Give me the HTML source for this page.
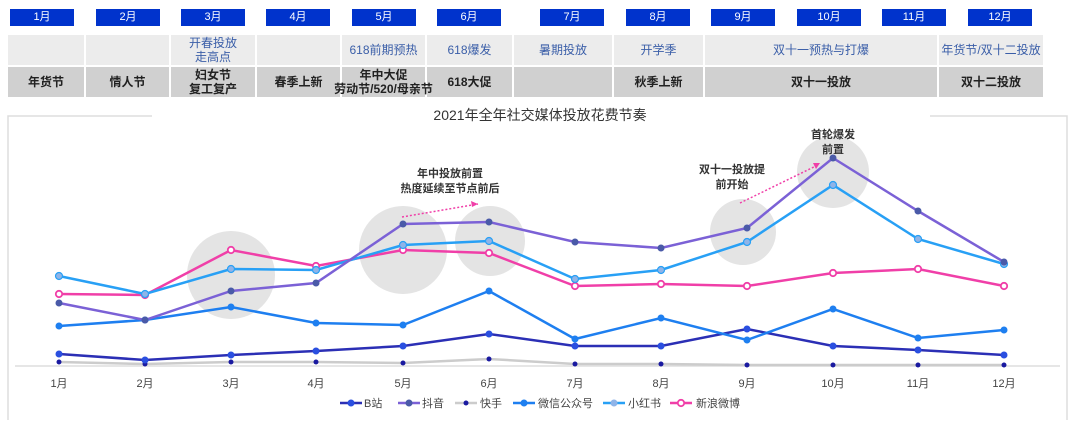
<!DOCTYPE html>
<html><head><meta charset="utf-8"><style>
body{margin:0;width:1080px;height:425px;background:#fff;font-family:"Liberation Sans","Noto Sans CJK SC",sans-serif;position:relative;overflow:hidden}
.m{position:absolute;top:9px;width:64px;height:17px;background:#0033cc;color:#fff;font-size:11px;text-align:center;line-height:17px}
.c{position:absolute;display:flex;align-items:center;justify-content:center;text-align:center;font-size:12px;line-height:14px;white-space:nowrap}
.r1{top:35px;height:30px;background:#ececec;color:#3a5ea8}
.r2{top:67px;height:30px;background:#d0d0d0;color:#222;font-weight:bold}
</style></head><body>
<div class="m" style="left:10px">1月</div><div class="m" style="left:96px">2月</div><div class="m" style="left:181px">3月</div><div class="m" style="left:266px">4月</div><div class="m" style="left:352px">5月</div><div class="m" style="left:437px">6月</div><div class="m" style="left:540px">7月</div><div class="m" style="left:626px">8月</div><div class="m" style="left:711px">9月</div><div class="m" style="left:797px">10月</div><div class="m" style="left:882px">11月</div><div class="m" style="left:968px">12月</div>

<div class="c r1" style="left:8px;width:76px"></div>
<div class="c r1" style="left:86px;width:83px"></div>
<div class="c r1" style="left:171px;width:84px">开春投放<br>走高点</div>
<div class="c r1" style="left:257px;width:83px"></div>
<div class="c r1" style="left:342px;width:83px">618前期预热</div>
<div class="c r1" style="left:427px;width:85px">618爆发</div>
<div class="c r1" style="left:514px;width:98px">暑期投放</div>
<div class="c r1" style="left:614px;width:89px">开学季</div>
<div class="c r1" style="left:705px;width:232px">双十一预热与打爆</div>
<div class="c r1" style="left:939px;width:104px">年货节/双十二投放</div>

<div class="c r2" style="left:8px;width:76px">年货节</div>
<div class="c r2" style="left:86px;width:83px">情人节</div>
<div class="c r2" style="left:171px;width:84px">妇女节<br>复工复产</div>
<div class="c r2" style="left:257px;width:83px">春季上新</div>
<div class="c r2" style="left:427px;width:85px">618大促</div>
<div class="c r2" style="left:342px;width:83px;z-index:2">年中大促<br>劳动节/520/母亲节</div>
<div class="c r2" style="left:514px;width:98px"></div>
<div class="c r2" style="left:614px;width:89px">秋季上新</div>
<div class="c r2" style="left:705px;width:232px">双十一投放</div>
<div class="c r2" style="left:939px;width:104px">双十二投放</div>

<svg width="1080" height="425" style="position:absolute;left:0;top:0" font-family="Liberation Sans,Noto Sans CJK SC,sans-serif">
<path d="M152,116H8V420" fill="none" stroke="#ddd" stroke-width="1.5"/>
<path d="M930,116H1067V420" fill="none" stroke="#ddd" stroke-width="1.5"/>
<text x="540" y="120" text-anchor="middle" font-size="14" fill="#333">2021年全年社交媒体投放花费节奏</text>
<g fill="#e4e4e4">
<circle cx="231" cy="275" r="44"/><circle cx="403" cy="250" r="44"/><circle cx="490" cy="241" r="35"/><circle cx="743" cy="232" r="33"/><circle cx="833" cy="172" r="36"/>
</g>
<line x1="15" y1="366" x2="1060" y2="366" stroke="#ddd" stroke-width="1.5"/>
<g font-size="11" fill="#333" text-anchor="middle" font-weight="bold">
<text x="450" y="177">年中投放前置</text><text x="450" y="192">热度延续至节点前后</text>
<text x="732" y="173">双十一投放提</text><text x="732" y="188">前开始</text>
<text x="833" y="138">首轮爆发</text><text x="833" y="153">前置</text>
</g>
<g stroke="#f03fa8" stroke-width="1.5" stroke-dasharray="2,2" fill="none">
<line x1="402" y1="217" x2="478" y2="204"/><line x1="740" y1="203" x2="818" y2="165"/></g>
<path d="M478,204l-7,-3l1,6z M820,163l-7,0l3,6z" fill="#f03fa8"/>
<g font-size="11" fill="#444" text-anchor="middle">
<text x="59" y="387">1月</text><text x="145" y="387">2月</text><text x="231" y="387">3月</text><text x="316" y="387">4月</text><text x="403" y="387">5月</text><text x="489" y="387">6月</text><text x="575" y="387">7月</text><text x="661" y="387">8月</text><text x="747" y="387">9月</text><text x="833" y="387">10月</text><text x="918" y="387">11月</text><text x="1004" y="387">12月</text>
</g>
<g fill="none" stroke-width="2.5">
<polyline stroke="#ccc" points="59,362 145,364 231,362 316,362 403,363 489,359 575,364 661,364 747,365 833,365 918,365 1004,365"/>
<polyline stroke="#2b2fb5" points="59,354 145,360 231,355 316,351 403,346 489,334 575,346 661,346 747,329 833,346 918,350 1004,355"/>
<polyline stroke="#1e7ff0" points="59,326 145,320 231,307 316,323 403,325 489,291 575,339 661,318 747,340 833,309 918,338 1004,330"/>
<polyline stroke="#f03fa8" points="59,294 145,295 231,250 316,266 403,250 489,253 575,286 661,284 747,286 833,273 918,269 1004,286"/>
<polyline stroke="#28a0f5" points="59,276 145,294 231,269 316,270 403,245 489,241 575,279 661,270 747,242 833,185 918,239 1004,264"/>
<polyline stroke="#7b61d6" points="59,303 145,320 231,291 316,283 403,224 489,222 575,242 661,248 747,228 833,158 918,211 1004,262"/>
</g>
<g fill="#1a1aa0"><circle cx="59" cy="362" r="2.5"/><circle cx="145" cy="364" r="2.5"/><circle cx="231" cy="362" r="2.5"/><circle cx="316" cy="362" r="2.5"/><circle cx="403" cy="363" r="2.5"/><circle cx="489" cy="359" r="2.5"/><circle cx="575" cy="364" r="2.5"/><circle cx="661" cy="364" r="2.5"/><circle cx="747" cy="365" r="2.5"/><circle cx="833" cy="365" r="2.5"/><circle cx="918" cy="365" r="2.5"/><circle cx="1004" cy="365" r="2.5"/></g>
<g fill="#2a4fe0"><circle cx="59" cy="354" r="3.5"/><circle cx="145" cy="360" r="3.5"/><circle cx="231" cy="355" r="3.5"/><circle cx="316" cy="351" r="3.5"/><circle cx="403" cy="346" r="3.5"/><circle cx="489" cy="334" r="3.5"/><circle cx="575" cy="346" r="3.5"/><circle cx="661" cy="346" r="3.5"/><circle cx="747" cy="329" r="3.5"/><circle cx="833" cy="346" r="3.5"/><circle cx="918" cy="350" r="3.5"/><circle cx="1004" cy="355" r="3.5"/></g>
<g fill="#1e7ff0"><circle cx="59" cy="326" r="3.5"/><circle cx="145" cy="320" r="3.5"/><circle cx="231" cy="307" r="3.5"/><circle cx="316" cy="323" r="3.5"/><circle cx="403" cy="325" r="3.5"/><circle cx="489" cy="291" r="3.5"/><circle cx="575" cy="339" r="3.5"/><circle cx="661" cy="318" r="3.5"/><circle cx="747" cy="340" r="3.5"/><circle cx="833" cy="309" r="3.5"/><circle cx="918" cy="338" r="3.5"/><circle cx="1004" cy="330" r="3.5"/></g>
<g fill="#fff" stroke="#f03fa8" stroke-width="1.8"><circle cx="59" cy="294" r="3.2"/><circle cx="145" cy="295" r="3.2"/><circle cx="231" cy="250" r="3.2"/><circle cx="316" cy="266" r="3.2"/><circle cx="403" cy="250" r="3.2"/><circle cx="489" cy="253" r="3.2"/><circle cx="575" cy="286" r="3.2"/><circle cx="661" cy="284" r="3.2"/><circle cx="747" cy="286" r="3.2"/><circle cx="833" cy="273" r="3.2"/><circle cx="918" cy="269" r="3.2"/><circle cx="1004" cy="286" r="3.2"/></g>
<g fill="#8fb4e8" stroke="#28a0f5" stroke-width="1.2"><circle cx="59" cy="276" r="3.5"/><circle cx="145" cy="294" r="3.5"/><circle cx="231" cy="269" r="3.5"/><circle cx="316" cy="270" r="3.5"/><circle cx="403" cy="245" r="3.5"/><circle cx="489" cy="241" r="3.5"/><circle cx="575" cy="279" r="3.5"/><circle cx="661" cy="270" r="3.5"/><circle cx="747" cy="242" r="3.5"/><circle cx="833" cy="185" r="3.5"/><circle cx="918" cy="239" r="3.5"/><circle cx="1004" cy="264" r="3.5"/></g>
<g fill="#4a5aa8"><circle cx="59" cy="303" r="3.5"/><circle cx="145" cy="320" r="3.5"/><circle cx="231" cy="291" r="3.5"/><circle cx="316" cy="283" r="3.5"/><circle cx="403" cy="224" r="3.5"/><circle cx="489" cy="222" r="3.5"/><circle cx="575" cy="242" r="3.5"/><circle cx="661" cy="248" r="3.5"/><circle cx="747" cy="228" r="3.5"/><circle cx="833" cy="158" r="3.5"/><circle cx="918" cy="211" r="3.5"/><circle cx="1004" cy="262" r="3.5"/></g>
<g font-size="11" fill="#444" stroke-width="2.5">
<line x1="340" y1="403" x2="362" y2="403" stroke="#2b2fb5"/><circle cx="351" cy="403" r="3.5" fill="#2a4fe0"/><text x="364" y="407">B站</text>
<line x1="398" y1="403" x2="420" y2="403" stroke="#7b61d6"/><circle cx="409" cy="403" r="3.5" fill="#4a5aa8"/><text x="422" y="407">抖音</text>
<line x1="455" y1="403" x2="477" y2="403" stroke="#ccc"/><circle cx="466" cy="403" r="2.5" fill="#1a1aa0"/><text x="480" y="407">快手</text>
<line x1="513" y1="403" x2="535" y2="403" stroke="#1e7ff0"/><circle cx="524" cy="403" r="3.5" fill="#1e7ff0"/><text x="538" y="407">微信公众号</text>
<line x1="603" y1="403" x2="625" y2="403" stroke="#28a0f5"/><circle cx="614" cy="403" r="3.5" fill="#8fb4e8"/><text x="628" y="407">小红书</text>
<line x1="670" y1="403" x2="692" y2="403" stroke="#f03fa8"/><circle cx="681" cy="403" r="3.2" fill="#fff" stroke="#f03fa8" stroke-width="1.8"/><text x="696" y="407">新浪微博</text>
</g>
</svg>
</body></html>
